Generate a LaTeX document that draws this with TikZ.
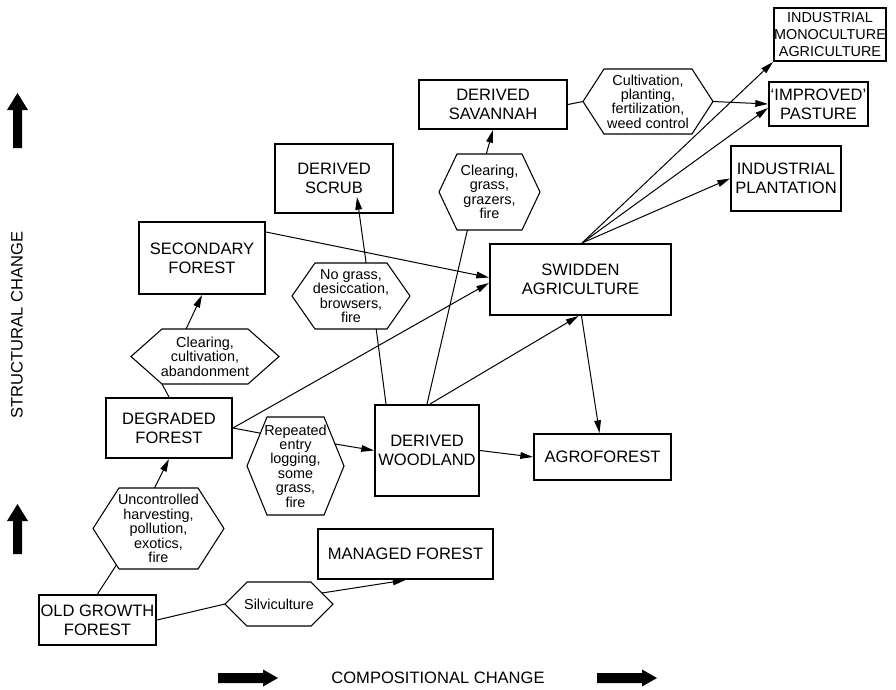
\documentclass[tikz,border=0pt]{standalone}
\usepackage{fontspec}
\setmainfont{Liberation Sans}
\usetikzlibrary{arrows.meta,calc}
\newcommand{\hexnode}[7]{%
  \coordinate (#1-l) at (#2-#4,#3);
  \coordinate (#1-tl) at (#2-#4+#6,#3-#5);
  \coordinate (#1-tr) at (#2+#4-#6,#3-#5);
  \coordinate (#1-r) at (#2+#4,#3);
  \coordinate (#1-br) at (#2+#4-#6,#3+#5);
  \coordinate (#1-bl) at (#2-#4+#6,#3+#5);
  \draw[hexline] (#1-l) -- (#1-tl) -- (#1-tr) -- (#1-r) -- (#1-br) -- (#1-bl) -- cycle;
  \node[hext] (#1) at (#2,#3) {#7};
}
\tikzset{
  box/.style={draw, line width=1.5pt, align=center, inner sep=0pt,
    font=\fontsize{12.4}{14.5}\selectfont},
  sz/.style 2 args={minimum width=#1*0.75pt, minimum height=#2*0.75pt},
  hext/.style={align=center, inner sep=0pt, font=\fontsize{10.8}{10.8}\selectfont},
  hexline/.style={line width=0.8pt, line join=miter},
  conn/.style={line width=0.75pt},
  arr/.style={conn, -{Triangle[length=9.5pt,width=5pt]}},
  axisarrow/.style={fill=black},
  axislabel/.style={font=\fontsize{12.4}{14.5}\selectfont, inner sep=0pt}
}
\begin{document}
\begin{tikzpicture}[x=0.75pt, y=-0.75pt]
\useasboundingbox (0,0) rectangle (896,689);

% boxes
\node[box, sz={112}{53}, font=\fontsize{10.8}{13}\selectfont] (mono) at (830,34.5) {INDUSTRIAL\\MONOCULTURE\\AGRICULTURE};
\node[box, sz={99}{44}] (past) at (818.5,104) {‘IMPROVED’\\PASTURE};
\node[box, sz={110}{65}] (plant) at (786,178.5) {INDUSTRIAL\\PLANTATION};
\node[box, sz={148}{49}] (sav) at (493,104.5) {DERIVED\\SAVANNAH};
\node[box, sz={118}{69}] (scrub) at (334,178.5) {DERIVED\\SCRUB};
\node[box, sz={126}{72}] (sec) at (202,258) {SECONDARY\\FOREST};
\node[box, sz={181}{71}] (swid) at (580.5,279.5) {SWIDDEN\\AGRICULTURE};
\node[box, sz={126}{60}] (deg) at (169,428) {DEGRADED\\FOREST};
\node[box, sz={104}{91}] (wood) at (427,450.5) {DERIVED\\WOODLAND};
\node[box, sz={137}{46}] (agro) at (602.5,457) {AGROFOREST};
\node[box, sz={175}{50}] (man) at (405.5,554) {MANAGED FOREST};
\node[box, sz={117}{50}] (old) at (97.5,620) {OLD GROWTH\\FOREST};

% hexagons
\hexnode{cult}{648}{101.5}{65}{32.5}{21}{Cultivation,\\planting,\\fertilization,\\weed control}
\hexnode{gr}{489.5}{192}{50.5}{38}{18}{Clearing,\\grass,\\grazers,\\fire}
\hexnode{ng}{351}{296}{59}{33}{23}{No grass,\\desiccation,\\browsers,\\fire}
\hexnode{clr}{205}{356.5}{74}{27.5}{31}{Clearing,\\cultivation,\\abandonment}
\hexnode{rep}{295.5}{466}{48.5}{49}{20}{Repeated\\entry\\logging,\\some\\grass,\\fire}
\hexnode{unc}{158.5}{528.5}{65.5}{40.5}{26}{Uncontrolled\\harvesting,\\pollution,\\exotics,\\fire}
\hexnode{silv}{279}{604}{54}{22}{22}{Silviculture}

% connectors
\draw[conn] (old.north) -- ($(unc-l)!0.9!(unc-bl)$);
\draw[arr] ($(unc-tl)!0.45!(unc-tr)$) -- (deg.south);
\draw[conn] (deg.north) -- (clr-bl);
\draw[arr] ($(clr-tl)!0.28!(clr-tr)$) -- (sec.south);
\draw[conn] (old.east) -- (silv-l);
\draw[arr] ($(silv-tr)!0.5!(silv-r)$) -- (man.south);
\draw[conn] (deg.east) -- ($(rep-tl)!0.33!(rep-l)$);
\draw[arr] ($(rep-tr)!0.55!(rep-r)$) -- (wood.west);
\draw[arr] (deg.east) -- ($(swid.west)+(0,3.5)$);
\draw[arr] ($(sec.north east)+(0,11)$) -- ($(swid.west)+(0,-2)$);
\draw[conn] ($(wood.north west)+(12,0)$) -- ($(ng-bl)!0.85!(ng-br)$);
\draw[arr] ($(ng-tl)!0.71!(ng-tr)$) -- ($(scrub.south)+(23,-17)$);
\draw[conn] (wood.north) -- ($(gr-bl)!0.16!(gr-br)$);
\draw[arr] ($(gr-tl)!0.45!(gr-tr)$) -- (sav.south);
\draw[arr] ($(wood.north)+(3,0)$) -- ($(swid.south)+(-2,0)$);
\draw[arr] ($(swid.south)+(1,0)$) -- ($(agro.north)+(-3,0)$);
\draw[arr] (wood.east) -- (agro.west);
\coordinate (fan) at ($(swid.north)+(1.5,0)$);
\draw[arr] (fan) -- (mono.south west);
\draw[arr] (fan) -- ($(past.west)+(0,4)$);
\draw[arr] (fan) -- (plant.west);
\draw[conn] (sav.east) -- (cult-l);
\draw[arr] (cult-r) -- (past.west);

% axes
\fill[axisarrow] (13,148) -- (13,110) -- (7,110) -- (17.5,93) -- (28,110) -- (22,110) -- (22,148) -- cycle;
\fill[axisarrow] (13,554) -- (13,521) -- (7,521) -- (17.5,504) -- (28,521) -- (22,521) -- (22,554) -- cycle;
\fill[axisarrow] (218,673) -- (263,673) -- (263,669.5) -- (278,678) -- (263,686.5) -- (263,683) -- (218,683) -- cycle;
\fill[axisarrow] (597,673) -- (642,673) -- (642,669.5) -- (657,678) -- (642,686.5) -- (642,683) -- (597,683) -- cycle;
\node[axislabel, rotate=90] (struct) at (17,325) {STRUCTURAL CHANGE};
\node[axislabel] (comp) at (438,678) {COMPOSITIONAL CHANGE};
\end{tikzpicture}
\end{document}
